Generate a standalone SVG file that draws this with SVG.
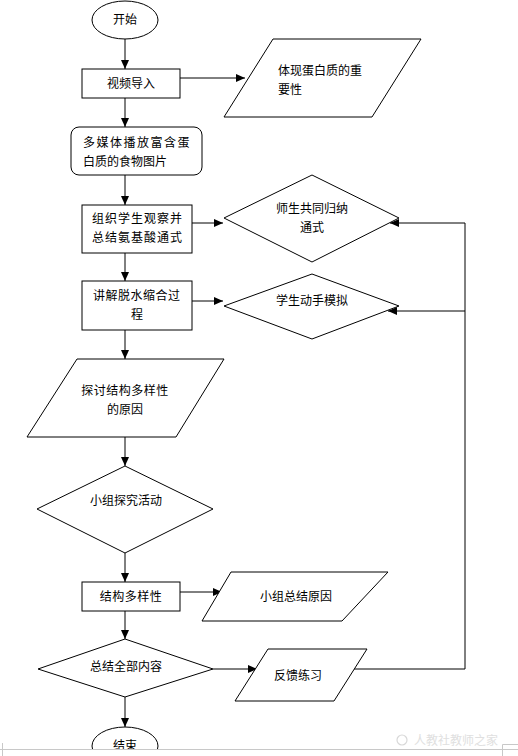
<svg xmlns="http://www.w3.org/2000/svg" width="518" height="756" viewBox="0 0 518 756">
<style>
.s{fill:#fff;stroke:#000;stroke-width:1}
.t{font-family:"Liberation Sans","Noto Sans CJK SC",sans-serif;font-size:12px;fill:#000}
.m{text-anchor:middle}
.c{fill:none;stroke:#000;stroke-width:1}
.ls{letter-spacing:1.5px}
</style>
<defs>
<marker id="a" markerWidth="9" markerHeight="8" refX="9" refY="4" orient="auto" markerUnits="userSpaceOnUse">
<path d="M0,0 L9,4 L0,8 Z" fill="#000"/>
</marker>
<clipPath id="page"><rect x="0" y="0" width="518" height="749"/></clipPath>
</defs>
<rect width="518" height="756" fill="#fff"/>
<g id="connectors">
<line class="c" x1="125" y1="39" x2="125" y2="69" marker-end="url(#a)"/>
<line class="c" x1="180" y1="78" x2="245" y2="78" marker-end="url(#a)"/>
<line class="c" x1="125" y1="98" x2="125" y2="127" marker-end="url(#a)"/>
<line class="c" x1="125" y1="175" x2="125" y2="205" marker-end="url(#a)"/>
<line class="c" x1="192" y1="223" x2="223" y2="223" marker-end="url(#a)"/>
<line class="c" x1="125" y1="253" x2="125" y2="281" marker-end="url(#a)"/>
<line class="c" x1="192" y1="301" x2="223" y2="301" marker-end="url(#a)"/>
<line class="c" x1="125" y1="330" x2="125" y2="359" marker-end="url(#a)"/>
<line class="c" x1="125" y1="437" x2="125" y2="466" marker-end="url(#a)"/>
<line class="c" x1="125" y1="553" x2="125" y2="582" marker-end="url(#a)"/>
<line class="c" x1="180" y1="592" x2="222" y2="592" marker-end="url(#a)"/>
<line class="c" x1="125" y1="611" x2="125" y2="639" marker-end="url(#a)"/>
<line class="c" x1="213" y1="669" x2="257" y2="669" marker-end="url(#a)"/>
<line class="c" x1="125" y1="697" x2="125" y2="727" marker-end="url(#a)"/>
<polyline class="c" points="354,669 465,669 465,223 390,223" marker-end="url(#a)"/>
<line class="c" x1="465" y1="311" x2="388" y2="311" marker-end="url(#a)"/>
</g>
<g id="start">
<ellipse class="s" cx="125" cy="20" rx="33" ry="19"/>
<text class="t m" x="125" y="24">开始</text>
</g>
<g id="video">
<rect class="s" x="82" y="69" width="98" height="29"/>
<text class="t m" x="131" y="88">视频导入</text>
</g>
<g id="importance">
<polygon class="s" points="273,39 421,39 372,117 224,117"/>
<text class="t" x="278" y="75">体现蛋白质的重</text>
<text class="t" x="278" y="94">要性</text>
</g>
<g id="multimedia">
<rect class="s" x="71" y="127" width="131" height="48" rx="8"/>
<text class="t ls" x="83" y="147">多媒体播放富含蛋</text>
<text class="t" x="83" y="166">白质的食物图片</text>
</g>
<g id="observe">
<rect class="s" x="82" y="205" width="110" height="48"/>
<text class="t" x="92" y="223" style="letter-spacing:1px">组织学生观察并</text>
<text class="t" x="92" y="242" style="letter-spacing:1px">总结氨基酸通式</text>
</g>
<g id="summarize">
<polygon class="s" points="312,175 399,218 312,262 224,218"/>
<text class="t m" x="312" y="213">师生共同归纳</text>
<text class="t m" x="312" y="232">通式</text>
</g>
<g id="explain">
<rect class="s" x="82" y="281" width="110" height="49"/>
<text class="t" x="93" y="300" style="letter-spacing:0.5px">讲解脱水缩合过</text>
<text class="t m" x="137" y="319">程</text>
</g>
<g id="simulate">
<polygon class="s" points="312,274 399,306 312,339 224,306"/>
<text class="t m" x="312" y="305">学生动手模拟</text>
</g>
<g id="discuss">
<polygon class="s" points="77,359 224,359 176,437 27,437"/>
<text class="t m" x="125" y="395" style="letter-spacing:0.5px">探讨结构多样性</text>
<text class="t m" x="125" y="414">的原因</text>
</g>
<g id="group">
<polygon class="s" points="125,466 213,509 125,553 37,509"/>
<text class="t m" x="126" y="505">小组探究活动</text>
</g>
<g id="diversity">
<rect class="s" x="82" y="582" width="98" height="29"/>
<text class="t m" x="131" y="601" style="letter-spacing:0.5px">结构多样性</text>
</g>
<g id="reasons">
<polygon class="s" points="231,572 388,572 342,621 202,621"/>
<text class="t m" x="296" y="601">小组总结原因</text>
</g>
<g id="summary">
<polygon class="s" points="125,639 213,669 125,697 38,669"/>
<text class="t m" x="126" y="671">总结全部内容</text>
</g>
<g id="feedback">
<polygon class="s" points="268,649 367,649 334,701 235,701"/>
<text class="t m" x="298" y="680">反馈练习</text>
</g>
<g id="end" clip-path="url(#page)">
<ellipse class="s" cx="125" cy="746" rx="33" ry="19"/>
<text class="t m" x="125" y="750">结束</text>
</g>
<g id="page-edge" fill="none" stroke="#c8c8c8" stroke-width="1">
<line x1="0" y1="749.5" x2="518" y2="749.5"/>
<line x1="2.5" y1="743" x2="2.5" y2="756"/>
<polyline points="518,744.5 502.5,744.5 502.5,756"/>
</g>
<g id="watermark">
<circle cx="402" cy="740" r="5" fill="none" stroke="#d8d8d8" stroke-width="1.2"/>
<text x="414" y="745" style="font-family:'Noto Sans CJK SC',sans-serif;font-size:12px;fill:#e0e0e0">人教社教师之家</text>
</g>
</svg>
